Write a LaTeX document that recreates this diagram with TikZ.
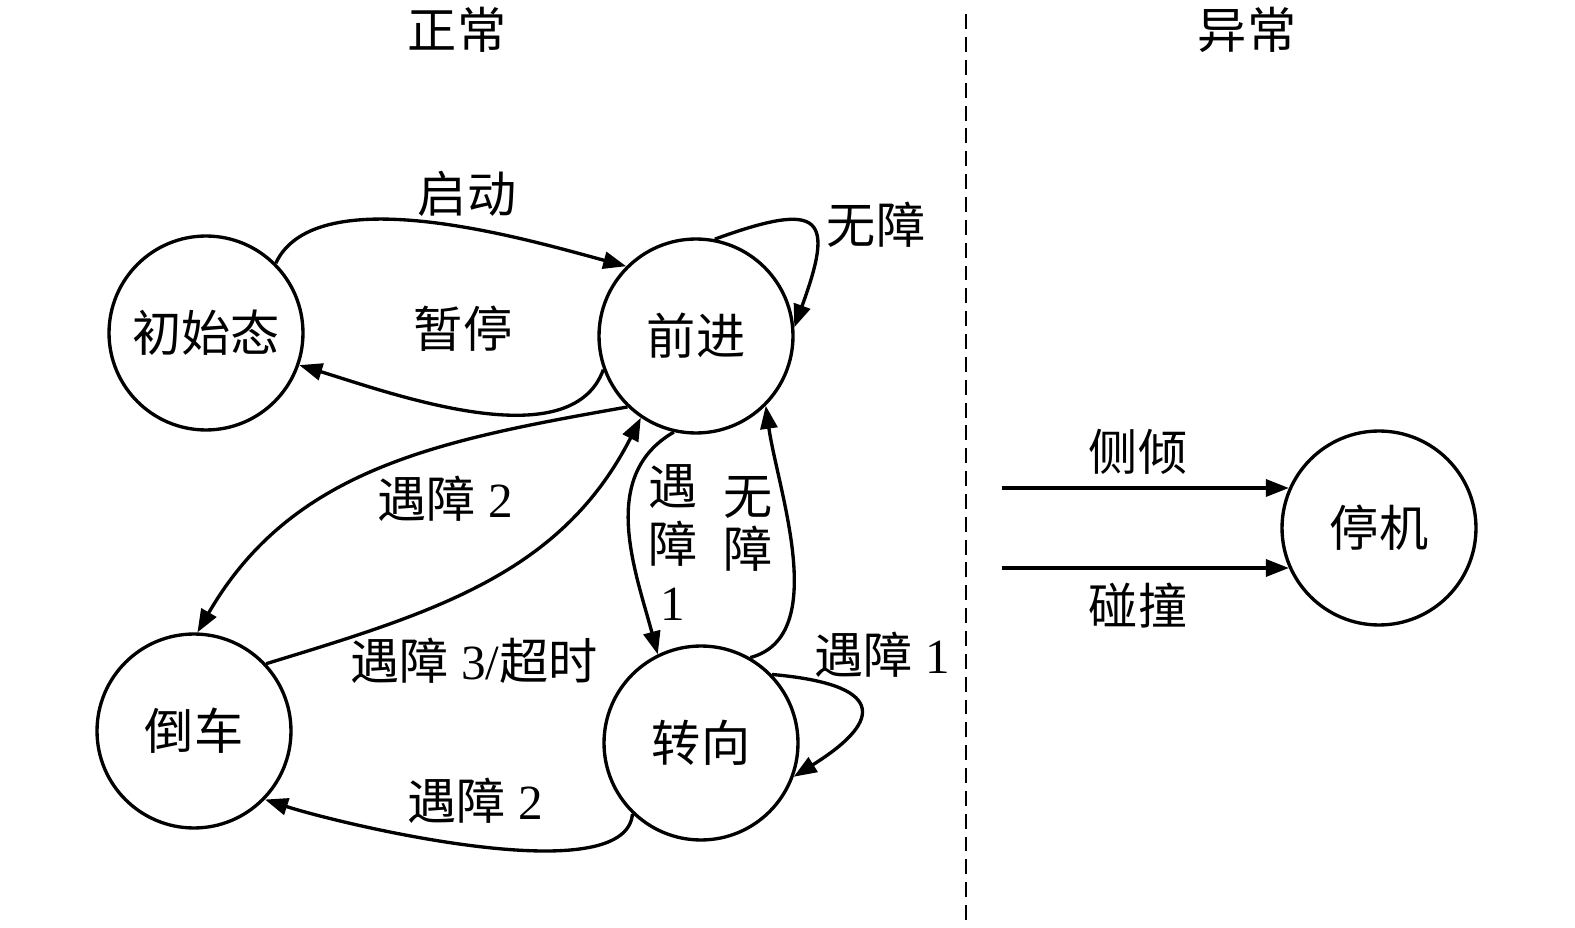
\documentclass[tikz,border=0pt]{standalone}
\usepackage{fontspec}
\setmainfont{Liberation Serif}
\newfontfamily\cjk{Noto Sans CJK SC}
\usetikzlibrary{arrows.meta}

\tikzset{
  state/.style={circle,draw,line width=1.9pt,minimum size=3.88cm,inner sep=0pt},
  arr/.style={line width=1.9pt,-{Triangle[length=0.46cm,width=0.34cm]}},
}

\begin{document}
\begin{tikzpicture}[x=0.02cm,y=0.02cm,font=\fontsize{28}{33}\selectfont]
  \useasboundingbox (0,0) rectangle (1575,927);

  % two regions
  \draw[line width=1.5pt,dash pattern=on 8.5pt off 4.5pt] (966,7) -- (966,915);
  \node (normal) at (457,897) {\cjk 正常};
  \node (abnormal) at (1247,897) {\cjk 异常};

  % states
  \node[state] (init) at (206,594) {\cjk 初始态};
  \node[state] (fwd) at (696,591) {\cjk 前进};
  \node[state] (back) at (194,196) {\cjk 倒车};
  \node[state] (turn) at (701,184) {\cjk 转向};
  \node[state] (stop) at (1379,399) {\cjk 停机};

  % transitions
  \draw[arr] (init.45) to[out=65,in=165,looseness=0.7] (fwd.135);
  \draw[arr] (fwd.200) to[out=250,in=-17,looseness=0.8] (init.-19);
  \draw[arr] (fwd.79) to[out=20,in=70,looseness=2.5] (fwd.5);
  \draw[arr] (fwd.226) to[out=190,in=60] (back.88);
  \draw[arr] (back.43) to[out=17,in=243] (fwd.236);
  \draw[arr] (fwd.257) to[out=210,in=105] (turn.116);
  \draw[arr] (turn.60) to[out=15,in=-82,looseness=0.85] (fwd.-45);
  \draw[arr] (turn.44) to[out=-5,in=32,looseness=2.7] (turn.-20);
  \draw[arr] (turn.226) to[out=265,in=-18,looseness=0.55] (back.-44);

  \node (lstart) at (467,733) {\cjk 启动};
  \node (lpause) at (463,598) {\cjk 暂停};
  \node (lclear) at (876,702) {\cjk 无障};
  \node (lobs2) at (445,428) {{\cjk 遇障} 2};
  \node (lobs3) at (474,266) {{\cjk 遇障} 3/{\cjk 超时}};
  \node[align=center] (lobs1) at (673,384) {{\cjk 遇}\\{\cjk 障}\\1};
  \node[align=center] (lclear2) at (748,403) {{\cjk 无}\\[-3pt]{\cjk 障}};
  \node (lobs1r) at (882,272) {{\cjk 遇障} 1};
  \node (lobs2b) at (475,126) {{\cjk 遇障} 2};

  % abnormal events
  \coordinate (tilt) at (1002,439);
  \coordinate (crash) at (1002,359);
  \draw[arr] (tilt) -- (tilt -| stop.156);
  \draw[arr] (crash) -- (crash -| stop.204);
  \node (ltilt) at (1138,475) {\cjk 侧倾};
  \node (lcrash) at (1138,321) {\cjk 碰撞};

\end{tikzpicture}
\end{document}
